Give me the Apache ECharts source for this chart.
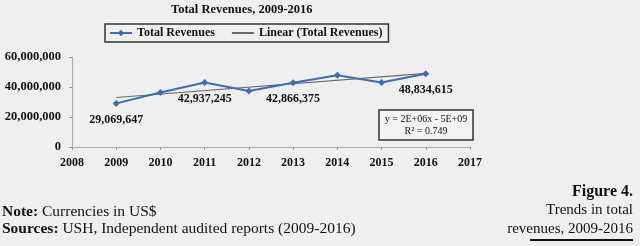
<!DOCTYPE html>
<html>
<head>
<meta charset="utf-8">
<script src="https://cdn.jsdelivr.net/npm/echarts@6/dist/echarts.min.js"></script>
<style>
  html, body { margin: 0; padding: 0; background: #efefef; }
  #main { width: 640px; height: 246px; }
</style>
</head>
<body>
<div id="main"></div>
<script>
// data
var years = [2009, 2010, 2011, 2012, 2013, 2014, 2015, 2016];
var revenues = [29069647, 36300000, 42937245, 37300000, 42866375, 47900000, 43000000, 48834615];
var labelledYears = [2009, 2011, 2013, 2016];
var yTicks = [0, 20000000, 40000000, 60000000];

var serif = '"Liberation Serif", "DejaVu Serif", serif';

// least squares trend (Excel "Linear" trendline)
var n = years.length;
var mx = years.reduce(function (a, b) { return a + b; }, 0) / n;
var my = revenues.reduce(function (a, b) { return a + b; }, 0) / n;
var sxy = 0, sxx = 0;
years.forEach(function (x, i) {
    sxy += (x - mx) * (revenues[i] - my);
    sxx += (x - mx) * (x - mx);
});
var slope = sxy / sxx;
var intercept = my - slope * mx;
var trend = [years[0], years[n - 1]].map(function (x) { return [x, intercept + slope * x]; });

var mainData = years.map(function (y, i) {
    return {
        value: [y, revenues[i]],
        label: { show: labelledYears.indexOf(y) >= 0 }
    };
});

var myChart = echarts.init(document.getElementById('main'));
var option = {
    backgroundColor: '#efefef',
    animation: false,
    textStyle: { fontFamily: serif },
    grid: { left: 72, right: 170, top: 57, bottom: 99 },
    legend: {
        left: 105,
        top: 24,
        padding: [3, 6, 3, 4],
        itemGap: 16,
        itemWidth: 22,
        itemHeight: 8,
        borderColor: '#333',
        borderWidth: 1.5,
        textStyle: { fontFamily: serif, fontWeight: 'bold', fontSize: 12, color: '#111' },
        data: [
            { name: 'Total Revenues' },
            { name: 'Linear (Total Revenues)', itemStyle: { color: 'transparent', borderWidth: 0 } }
        ]
    },
    xAxis: {
        type: 'value',
        min: 2008,
        max: 2017,
        interval: 1,
        splitLine: { show: false },
        axisLine: { lineStyle: { color: '#aaa' } },
        axisTick: { length: 3, lineStyle: { color: '#999' } },
        axisLabel: {
            fontFamily: serif, fontWeight: 'bold', fontSize: 12, color: '#111', margin: 10,
            formatter: function (v) { return String(v); }
        }
    },
    yAxis: {
        type: 'value',
        min: yTicks[0],
        max: yTicks[yTicks.length - 1],
        interval: yTicks[1] - yTicks[0],
        splitLine: { show: false },
        axisLine: { show: true, lineStyle: { color: '#aaa' } },
        axisTick: { show: true, length: 3, lineStyle: { color: '#999' } },
        axisLabel: {
            fontFamily: serif, fontWeight: 'bold', fontSize: 12.5, color: '#111', margin: 11,
            formatter: function (v) { return v.toLocaleString('en-US'); }
        }
    },
    series: [
        {
            name: 'Total Revenues',
            type: 'line',
            data: mainData,
            symbol: 'diamond',
            symbolSize: 7,
            lineStyle: { color: '#3d6fb0', width: 2 },
            itemStyle: { color: '#3d6fb0' },
            label: {
                position: 'bottom',
                distance: 7,
                fontFamily: serif,
                fontWeight: 'bold',
                fontSize: 12,
                color: '#111',
                formatter: function (p) { return p.value[1].toLocaleString('en-US'); }
            },
            z: 3
        },
        {
            name: 'Linear (Total Revenues)',
            type: 'line',
            data: trend,
            symbol: 'none',
            lineStyle: { color: '#6f6a66', width: 1.2 },
            itemStyle: { color: '#8a8a8a' },
            z: 2
        }
    ],
    graphic: [
        {
            type: 'text', left: 171, top: 3,
            style: { text: 'Total Revenues, 2009-2016', font: 'bold 12.5px ' + serif, fill: '#111' }
        },
        {
            type: 'rect', shape: { x: 379, y: 110, width: 94, height: 30 },
            style: { fill: '#f4f4f4', stroke: '#333', lineWidth: 1.5 }, z: 10
        },
        {
            type: 'text', x: 426, y: 113, z: 11,
            style: {
                text: 'y = 2E+06x - 5E+09\nR² = 0.749', font: '10px ' + serif, fill: '#111',
                align: 'center', lineHeight: 12
            }
        },
        {
            type: 'text', x: 2, y: 203,
            style: {
                text: '{b|Note:} Currencies in US$\n{b|Sources:} USH, Independent audited reports (2009-2016)',
                font: '15.5px ' + serif, fill: '#111', lineHeight: 17,
                rich: { b: { fontWeight: 'bold', fontSize: 15.5, fontFamily: serif, fill: '#111' } }
            }
        },
        {
            type: 'text', x: 633, y: 182,
            style: {
                text: '{b|Figure 4.}\nTrends in total\nrevenues, 2009-2016',
                font: '15px ' + serif, fill: '#111', align: 'right', lineHeight: 19,
                rich: { b: { fontWeight: 'bold', fontSize: 16, fontFamily: serif, fill: '#111' } }
            }
        },
        {
            type: 'line', shape: { x1: 530, y1: 240, x2: 633, y2: 240 },
            style: { stroke: '#111', lineWidth: 2 }
        }
    ]
};
myChart.setOption(option);
</script>
</body>
</html>
